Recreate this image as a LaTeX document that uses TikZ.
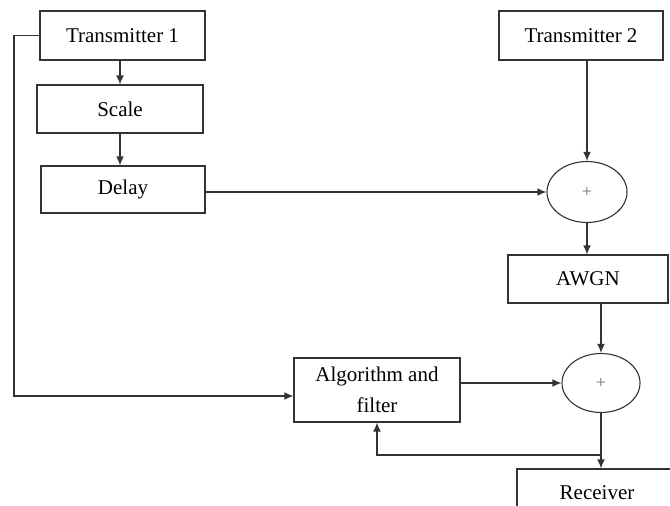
\documentclass[tikz,border=0pt]{standalone}
\usepackage{fontspec}
\setmainfont{Liberation Serif}
\usepackage{tikz}
\usetikzlibrary{positioning}
\usetikzlibrary{calc}
\usetikzlibrary{shapes.geometric}
\usetikzlibrary{arrows.meta}

\tikzset{
  blk/.style={rectangle, draw=black!80, line width=0.55pt, fill=white,
    font=\fontsize{10.5}{14.5}\selectfont, align=center, inner sep=2pt},
  adder/.style={ellipse, draw=black!80, line width=0.55pt, fill=white,
    font=\small, text=black!55, inner sep=0pt},
  link/.style={-{Latex[length=4.5pt,width=3.8pt]}, draw=black!80, line width=0.55pt}
}

\begin{document}
\begin{tikzpicture}[x=0.5pt, y=-0.5pt]
    \clip (0,0) rectangle (670,505);
    \fill[white] (0,0) rectangle (670,505);
    % left branch
    \node[blk, minimum width=82.5pt, minimum height=24.5pt] (tx1) at (122.5,35.5) {Transmitter 1};
    \node[blk, minimum width=83pt, minimum height=24pt] (scale) at (120,109) {Scale};
    \node[blk, minimum width=82pt, minimum height=23.5pt] (delay) at (123,189.5) {Delay};
    % right branch
    \node[blk, minimum width=82pt, minimum height=24.5pt] (tx2) at (581,35.5) {Transmitter 2};
    \node[adder, minimum width=40pt, minimum height=30.5pt] (sum1) at (587,192) {+};
    \node[blk, minimum width=80pt, minimum height=24pt] (awgn) at (588,279) {AWGN};
    \node[adder, minimum width=39pt, minimum height=29.5pt] (sum2) at (601,383) {+};
    \node[blk, minimum width=83pt, minimum height=32pt] (algo) at (377,390) {\raisebox{-2pt}{Algorithm and}\\\raisebox{-3pt}{filter}};
    \node[blk, minimum width=80pt, minimum height=24pt] (rx) at (597,493) {Receiver};

    \coordinate (lft) at (14,396);
    \coordinate (fb) at (601,455);

    \draw[link] (tx1.south -| scale.north) -- (scale.north);
    \draw[link] (scale.south) -- (scale.south |- delay.north);
    \draw[link] (delay.east |- sum1) -- (sum1.west);
    \draw[link] (tx2.south -| sum1.north) -- (sum1.north);
    \draw[link] (sum1.south) -- (sum1.south |- awgn.north);
    \draw[link] (awgn.south -| sum2.north) -- (sum2.north);
    \draw[link] (algo.east |- sum2) -- (sum2.west);
    \draw[link] (sum2.south) -- (sum2.south |- rx.north);
    \draw[link] (fb) -| (algo.south);
    \draw[link] (tx1.west) -- (tx1.west -| lft) -- (lft) -- (lft -| algo.west);
\end{tikzpicture}
\end{document}
